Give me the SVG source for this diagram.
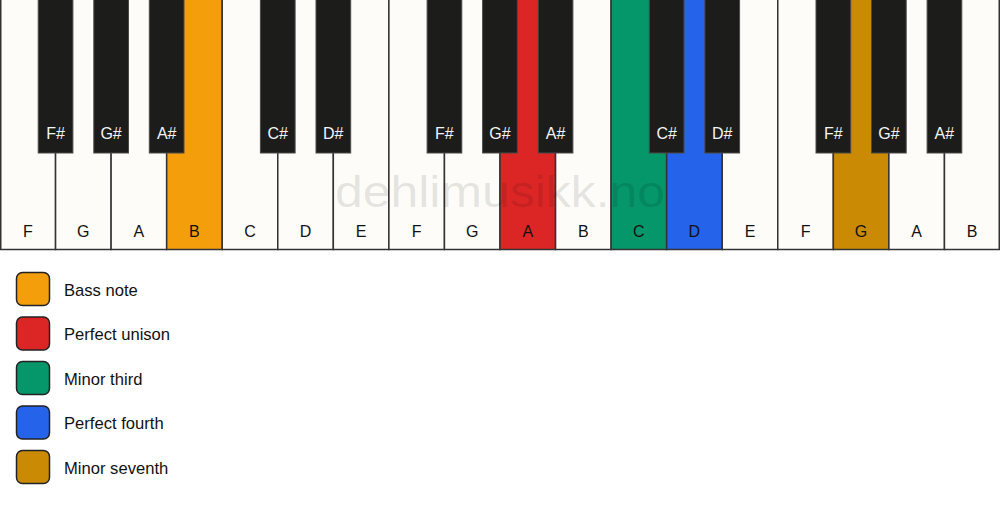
<svg xmlns="http://www.w3.org/2000/svg" width="1000" height="506" viewBox="0 0 1000 506">
<style>
.w{fill:#fdfcf8;stroke:#333;stroke-width:1.5}
.b{fill:#1c1c1b;stroke:#4a4a4a;stroke-width:1}
.wl{font-family:"Liberation Sans",Arial,sans-serif;font-size:16px;fill:#111;text-anchor:middle}
.bl{font-family:"Liberation Sans",Arial,sans-serif;font-size:16px;fill:#f5f5f5;text-anchor:middle}
.lg{stroke:#222;stroke-width:1.5}
.lt{font-family:"Liberation Sans",Arial,sans-serif;font-size:16.6px;fill:#111}
.wm{font-family:"Liberation Sans",Arial,sans-serif;font-size:45px;fill:#000;fill-opacity:0.11;text-anchor:middle}
</style>
<rect width="1000" height="506" fill="#fff"/>
<g id="white-keys">
<g id="w1"><rect class="w" x="0.75" y="-1" width="54.81" height="250.5"/><text class="wl" x="27.8" y="236.5">F</text></g>
<g id="w2"><rect class="w" x="55.56" y="-1" width="55.56" height="250.5"/><text class="wl" x="83.3" y="236.5">G</text></g>
<g id="w3"><rect class="w" x="111.11" y="-1" width="55.56" height="250.5"/><text class="wl" x="138.9" y="236.5">A</text></g>
<g id="w4"><rect class="w" x="166.67" y="-1" width="55.56" height="250.5" style="fill:#f59e0b"/><text class="wl" x="194.4" y="236.5">B</text></g>
<g id="w5"><rect class="w" x="222.22" y="-1" width="55.56" height="250.5"/><text class="wl" x="250" y="236.5">C</text></g>
<g id="w6"><rect class="w" x="277.78" y="-1" width="55.56" height="250.5"/><text class="wl" x="305.6" y="236.5">D</text></g>
<g id="w7"><rect class="w" x="333.33" y="-1" width="55.56" height="250.5"/><text class="wl" x="361.1" y="236.5">E</text></g>
<g id="w8"><rect class="w" x="388.89" y="-1" width="55.56" height="250.5"/><text class="wl" x="416.7" y="236.5">F</text></g>
<g id="w9"><rect class="w" x="444.44" y="-1" width="55.56" height="250.5"/><text class="wl" x="472.2" y="236.5">G</text></g>
<g id="w10"><rect class="w" x="500" y="-1" width="55.56" height="250.5" style="fill:#dc2626"/><text class="wl" x="527.8" y="236.5">A</text></g>
<g id="w11"><rect class="w" x="555.56" y="-1" width="55.56" height="250.5"/><text class="wl" x="583.3" y="236.5">B</text></g>
<g id="w12"><rect class="w" x="611.11" y="-1" width="55.56" height="250.5" style="fill:#059669"/><text class="wl" x="638.9" y="236.5">C</text></g>
<g id="w13"><rect class="w" x="666.67" y="-1" width="55.56" height="250.5" style="fill:#2563eb"/><text class="wl" x="694.4" y="236.5">D</text></g>
<g id="w14"><rect class="w" x="722.22" y="-1" width="55.56" height="250.5"/><text class="wl" x="750" y="236.5">E</text></g>
<g id="w15"><rect class="w" x="777.78" y="-1" width="55.56" height="250.5"/><text class="wl" x="805.6" y="236.5">F</text></g>
<g id="w16"><rect class="w" x="833.33" y="-1" width="55.56" height="250.5" style="fill:#ca8a04"/><text class="wl" x="861.1" y="236.5">G</text></g>
<g id="w17"><rect class="w" x="888.89" y="-1" width="55.56" height="250.5"/><text class="wl" x="916.7" y="236.5">A</text></g>
<g id="w18"><rect class="w" x="944.44" y="-1" width="54.81" height="250.5"/><text class="wl" x="972.2" y="236.5">B</text></g>
</g>
<text id="watermark" class="wm" x="500" y="207" textLength="330" lengthAdjust="spacingAndGlyphs">dehlimusikk.no</text>
<g id="black-keys">
<g id="b1"><rect class="b" x="38.2" y="-1" width="34.7" height="154"/><text class="bl" x="55.6" y="139">F#</text></g>
<g id="b2"><rect class="b" x="93.8" y="-1" width="34.7" height="154"/><text class="bl" x="111.1" y="139">G#</text></g>
<g id="b3"><rect class="b" x="149.3" y="-1" width="34.7" height="154"/><text class="bl" x="166.7" y="139">A#</text></g>
<g id="b4"><rect class="b" x="260.4" y="-1" width="34.7" height="154"/><text class="bl" x="277.8" y="139">C#</text></g>
<g id="b5"><rect class="b" x="316" y="-1" width="34.7" height="154"/><text class="bl" x="333.3" y="139">D#</text></g>
<g id="b6"><rect class="b" x="427.1" y="-1" width="34.7" height="154"/><text class="bl" x="444.4" y="139">F#</text></g>
<g id="b7"><rect class="b" x="482.6" y="-1" width="34.7" height="154"/><text class="bl" x="500" y="139">G#</text></g>
<g id="b8"><rect class="b" x="538.2" y="-1" width="34.7" height="154"/><text class="bl" x="555.6" y="139">A#</text></g>
<g id="b9"><rect class="b" x="649.3" y="-1" width="34.7" height="154"/><text class="bl" x="666.7" y="139">C#</text></g>
<g id="b10"><rect class="b" x="704.9" y="-1" width="34.7" height="154"/><text class="bl" x="722.2" y="139">D#</text></g>
<g id="b11"><rect class="b" x="816" y="-1" width="34.7" height="154"/><text class="bl" x="833.3" y="139">F#</text></g>
<g id="b12"><rect class="b" x="871.5" y="-1" width="34.7" height="154"/><text class="bl" x="888.9" y="139">G#</text></g>
<g id="b13"><rect class="b" x="927.1" y="-1" width="34.7" height="154"/><text class="bl" x="944.4" y="139">A#</text></g>
</g>
<g id="legend">
<g id="lg1"><rect class="lg" x="16.5" y="272.5" width="33" height="33" rx="6" fill="#f59e0b"/><text class="lt" x="64" y="295.8">Bass note</text></g>
<g id="lg2"><rect class="lg" x="16.5" y="317" width="33" height="33" rx="6" fill="#dc2626"/><text class="lt" x="64" y="340.3">Perfect unison</text></g>
<g id="lg3"><rect class="lg" x="16.5" y="361.5" width="33" height="33" rx="6" fill="#059669"/><text class="lt" x="64" y="384.8">Minor third</text></g>
<g id="lg4"><rect class="lg" x="16.5" y="406" width="33" height="33" rx="6" fill="#2563eb"/><text class="lt" x="64" y="429.3">Perfect fourth</text></g>
<g id="lg5"><rect class="lg" x="16.5" y="450.5" width="33" height="33" rx="6" fill="#ca8a04"/><text class="lt" x="64" y="473.8">Minor seventh</text></g>
</g>
</svg>
